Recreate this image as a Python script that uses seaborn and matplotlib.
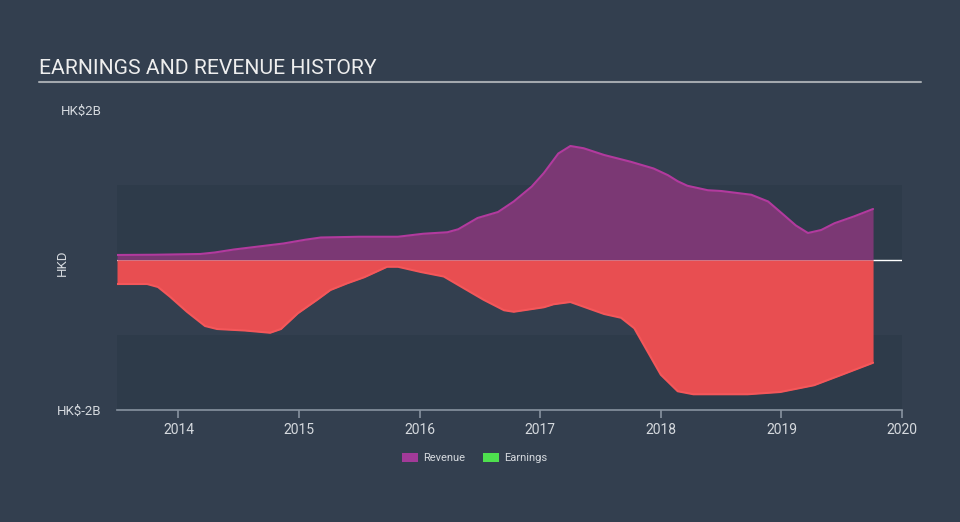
import matplotlib
matplotlib.use("Agg")
import matplotlib.pyplot as plt
from matplotlib.lines import Line2D
from matplotlib.patches import Patch
import pandas as pd
import seaborn as sns

# ---- data (HK$ billions, decimal years) ----
rev_years = [2013.49, 2013.8, 2014.18, 2014.3, 2014.46, 2014.87, 2015.05, 2015.18, 2015.5,
             2015.82, 2016.03, 2016.23, 2016.32, 2016.48, 2016.65, 2016.78,
             2016.93, 2017.03, 2017.15, 2017.25, 2017.36, 2017.53, 2017.75, 2017.94,
             2018.06, 2018.14, 2018.22, 2018.39, 2018.5, 2018.75, 2018.89, 2019.02,
             2019.12, 2019.22, 2019.33, 2019.44, 2019.6, 2019.76]
rev_values = [0.067, 0.07, 0.08, 0.10, 0.14, 0.22, 0.27, 0.30, 0.31,
              0.31, 0.35, 0.37, 0.41, 0.56, 0.64, 0.78,
              0.98, 1.16, 1.42, 1.52, 1.49, 1.40, 1.31, 1.22,
              1.13, 1.05, 0.99, 0.93, 0.92, 0.87, 0.78, 0.60,
              0.46, 0.36, 0.40, 0.49, 0.58, 0.68]

earn_years = [2013.49, 2013.74, 2013.83, 2013.93, 2014.07, 2014.22, 2014.32, 2014.55,
              2014.76, 2014.85, 2014.99, 2015.15, 2015.26, 2015.40, 2015.54, 2015.73,
              2015.82, 2016.01, 2016.20, 2016.37, 2016.53, 2016.70, 2016.78, 2017.03,
              2017.11, 2017.25, 2017.39, 2017.53, 2017.67, 2017.78, 2017.89, 2018.00,
              2018.14, 2018.27, 2018.50, 2018.72, 2018.99, 2019.27, 2019.50, 2019.76]
earn_values = [-0.32, -0.32, -0.36, -0.49, -0.69, -0.88, -0.92, -0.94,
               -0.97, -0.92, -0.71, -0.53, -0.40, -0.31, -0.23, -0.09,
               -0.09, -0.16, -0.22, -0.38, -0.53, -0.67, -0.69, -0.63,
               -0.59, -0.56, -0.64, -0.72, -0.77, -0.91, -1.22, -1.53,
               -1.75, -1.79, -1.79, -1.79, -1.76, -1.67, -1.53, -1.37]

x_ticks = [2014, 2015, 2016, 2017, 2018, 2019, 2020]
y_ticks = [-2, 2]
y_tick_labels = ["HK$-2B", "HK$2B"]

BG = "#333f4f"
BAND = "#2e3b4a"
REV_FILL = "#7b3874"
REV_LINE = "#b23a9e"
EARN_FILL = "#e84e51"
EARN_LINE = "#f4575a"
TEXT = "#d5d9de"
AXIS = "#8893a0"

sns.set_theme(style="dark", rc={"axes.facecolor": BG, "figure.facecolor": BG})
plt.rcParams["font.family"] = ["Roboto", "DejaVu Sans"]

fig = plt.figure(figsize=(9.6, 5.22), dpi=100, facecolor=BG)
ax = fig.add_axes([117 / 960, 112 / 522, 785 / 960, 300 / 522])
ax.set_facecolor(BG)

ax.axhspan(0, 1, color=BAND, lw=0, zorder=0)
ax.axhspan(-2, -1, color=BAND, lw=0, zorder=0)
ax.axhline(0, color="white", lw=1, zorder=1)

rev = pd.DataFrame({"year": rev_years, "value": rev_values})
earn = pd.DataFrame({"year": earn_years, "value": earn_values})

ax.fill_between(rev["year"], 0, rev["value"], color=REV_FILL, lw=0, zorder=2)
ax.fill_between(earn["year"], 0, earn["value"], color=EARN_FILL, lw=0, zorder=2)
sns.lineplot(data=rev, x="year", y="value", ax=ax, color=REV_LINE, lw=1.5, zorder=3)
sns.lineplot(data=earn, x="year", y="value", ax=ax, color=EARN_LINE, lw=1.5, zorder=3)

ax.set_xlim(2013.49, 2020.0)
ax.set_ylim(-2, 2)
ax.set_xlabel("")
ax.set_ylabel("")

for s in ["top", "right", "left"]:
    ax.spines[s].set_visible(False)
ax.spines["bottom"].set_color(AXIS)
ax.spines["bottom"].set_linewidth(1.2)

ax.set_xticks(x_ticks)
ax.set_xticklabels([str(t) for t in x_ticks])
ax.set_yticks(y_ticks)
ax.set_yticklabels(y_tick_labels)
ax.tick_params(axis="x", colors=AXIS, direction="out", length=6, width=1.2,
               labelcolor=TEXT, labelsize=10, pad=3, bottom=True)
ax.tick_params(axis="y", length=0, labelcolor=TEXT, labelsize=9.5, pad=11)
ax.grid(False)

fig.text(39 / 960, 1 - 68 / 522, "EARNINGS AND REVENUE HISTORY", color="#eeeeee",
         fontsize=15.2, va="center", ha="left")
fig.add_artist(Line2D([39 / 960, 921 / 960], [1 - 82 / 522] * 2, color="#a3a8ae", lw=1.5))
fig.text(62 / 960, 1 - 263 / 522, "HKD", color=TEXT, fontsize=9.5, rotation=90,
         va="center", ha="center")

handles = [Patch(facecolor="#a23a98", edgecolor="none", label="Revenue"),
           Patch(facecolor="#4ee04e", edgecolor="none", label="Earnings")]
fig.legend(handles=handles, loc="center", bbox_to_anchor=(475 / 960, 1 - 458 / 522),
           ncol=2, frameon=False, fontsize=8, labelcolor=TEXT, handlelength=1.4,
           handleheight=0.9, columnspacing=1.6, handletextpad=0.5)

fig.savefig("out.png", dpi=100, facecolor=BG)
